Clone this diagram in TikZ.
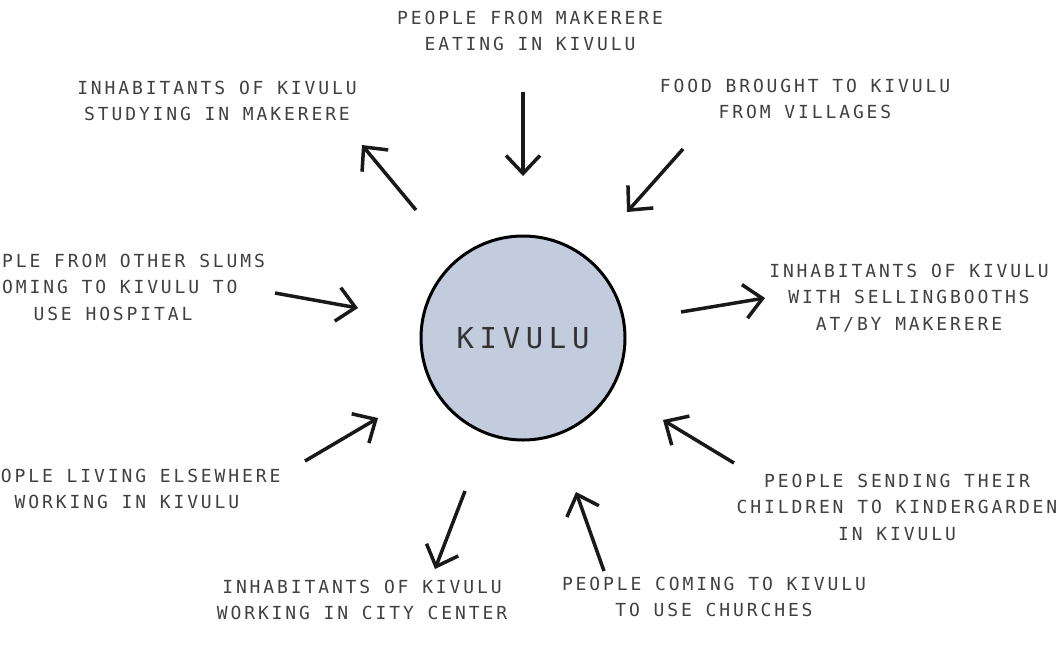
\documentclass[tikz,border=0pt]{standalone}
\usepackage{fontspec}
\newfontfamily\flowfont[LetterSpace=16]{DejaVu Sans Mono}
\newfontfamily\hubfont[LetterSpace=20]{DejaVu Sans Mono}
\usetikzlibrary{arrows.meta}
\definecolor{kivulublue}{HTML}{C3CCDD}

\begin{document}
\begin{tikzpicture}[
x=0.5pt, y=-0.5pt,
flow label/.style = {align=center, text=black!75, font=\flowfont\fontsize{9}{13.25}\selectfont},
hub/.style = {draw, circle, line width=1.5pt, fill=kivulublue, minimum size=102pt, inner sep=0pt, text=black!80, font=\hubfont\fontsize{14.4}{18}\selectfont},
flow/.style = {->, line width=1.75pt, black!90},
>={Straight Barb[length=9pt, width=17pt]},
]

\useasboundingbox (0,0) rectangle (1064,650);
\clip (0,0) rectangle (1064,650);

\node (kivulu) [hub] at (523,338) {KIVULU};

% texts round the hub
\node (eating) [flow label] at (530,31) {PEOPLE FROM MAKERERE\\EATING IN KIVULU};
\node (food) [flow label] at (805,99) {FOOD BROUGHT TO KIVULU\\FROM VILLAGES};
\node (studying) [flow label] at (217,101) {INHABITANTS OF KIVULU\\STUDYING IN MAKERERE};
\node (hospital) [flow label] at (113,287) {PEOPLE FROM OTHER SLUMS\\COMING TO KIVULU TO\\USE HOSPITAL};
\node (booths) [flow label] at (909,298) {INHABITANTS OF KIVULU\\WITH SELLINGBOOTHS\\AT/BY MAKERERE};
\node (elsewhere) [flow label] at (127,489) {PEOPLE LIVING ELSEWHERE\\WORKING IN KIVULU};
\node (citycenter) [flow label] at (362,600) {INHABITANTS OF KIVULU\\WORKING IN CITY CENTER};
\node (churches) [flow label] at (714,597) {PEOPLE COMING TO KIVULU\\TO USE CHURCHES};
\node (kindergarden) [flow label] at (897,507) {PEOPLE SENDING THEIR\\CHILDREN TO KINDERGARDEN\\IN KIVULU};

% arrow ends
\coordinate (eating-s) at (523,92);
\coordinate (eating-e) at (523,176);
\coordinate (food-s) at (683,149);
\coordinate (food-e) at (627,212);
\coordinate (studying-s) at (416,210);
\coordinate (studying-e) at (362,145);
\coordinate (hospital-s) at (275,293);
\coordinate (hospital-e) at (358,308);
\coordinate (booths-s) at (681,312);
\coordinate (booths-e) at (765,298);
\coordinate (elsewhere-s) at (305,461);
\coordinate (elsewhere-e) at (378,418);
\coordinate (citycenter-s) at (465,491);
\coordinate (citycenter-e) at (435,569);
\coordinate (churches-s) at (604,571);
\coordinate (churches-e) at (576,492);
\coordinate (kindergarden-s) at (734,463);
\coordinate (kindergarden-e) at (663,420);

\foreach \f in {eating, food, studying, hospital, booths, elsewhere, citycenter, churches, kindergarden}
  \draw[flow] (\f-s) -- (\f-e);

\end{tikzpicture}
\end{document}
